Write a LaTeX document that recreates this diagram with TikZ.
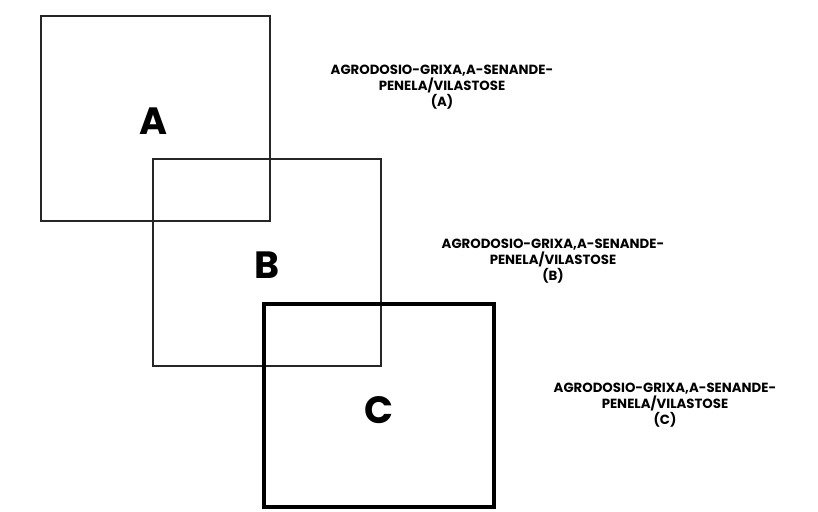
\documentclass[tikz,border=0pt]{standalone}
\usepackage{fontspec}
\setmainfont{Poppins}
\tikzset{
  thinbox/.style={draw=black!85, line width=1.4pt},
  thickbox/.style={draw=black, line width=4pt},
  bigletter/.style={font=\fontsize{38}{38}\selectfont\bfseries},
  caption/.style={font=\fontsize{13.3}{16}\selectfont\bfseries, align=center, inner sep=0pt}
}
\begin{document}
\begin{tikzpicture}[x=1pt,y=-1pt]
\useasboundingbox (0,0) rectangle (818,511);
\draw[thinbox] (41,16) rectangle (270,221);
\draw[thinbox] (153,159) rectangle (381,366);
\draw[thickbox] (264,304) rectangle (494,507);
\node[bigletter] (la) at (154,121) {A};
\node[bigletter] (lb) at (267,265) {B};
\node[bigletter] (lc) at (379,410) {C};
\node[caption] (ca) at (442,87) {AGRODOSIO-GRIXA,A-SENANDE-\\PENELA/VILASTOSE\\(A)};
\node[caption] (cb) at (553,261) {AGRODOSIO-GRIXA,A-SENANDE-\\PENELA/VILASTOSE\\(B)};
\node[caption] (cc) at (665,405) {AGRODOSIO-GRIXA,A-SENANDE-\\PENELA/VILASTOSE\\(C)};
\end{tikzpicture}
\end{document}
